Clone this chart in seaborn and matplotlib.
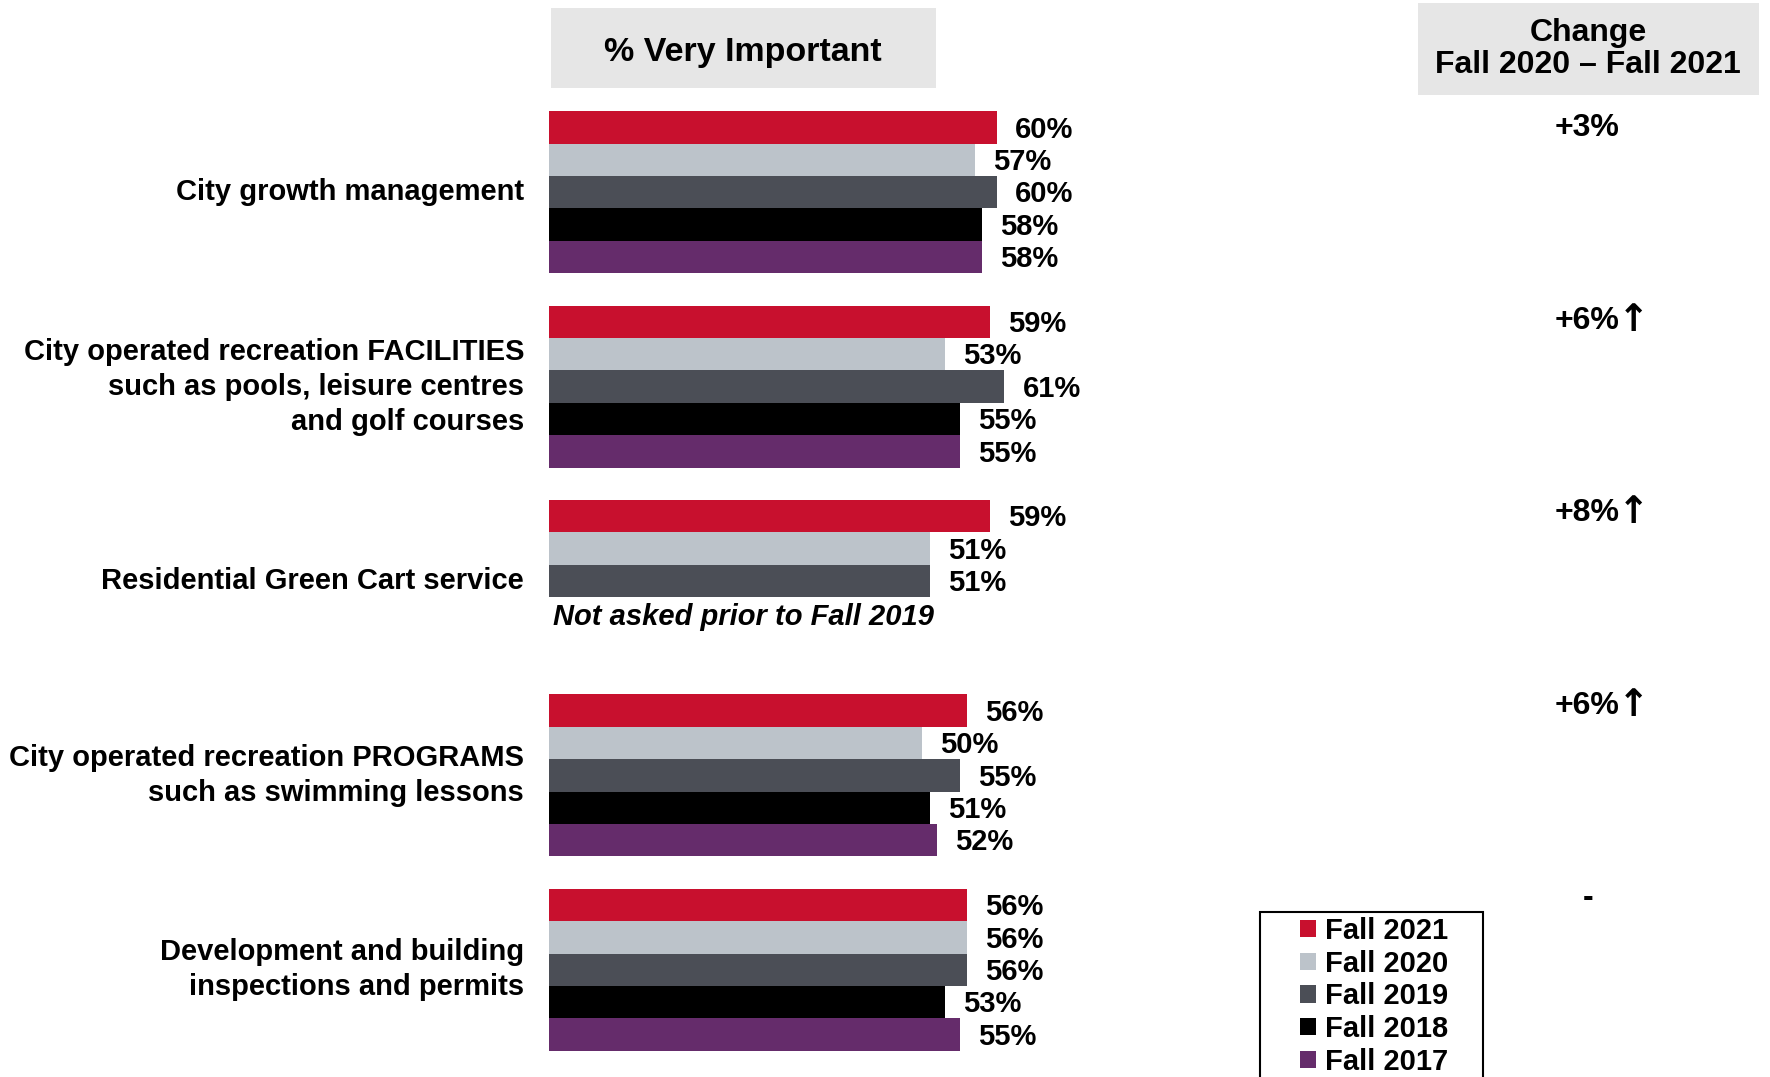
import matplotlib
matplotlib.use("Agg")
import matplotlib.pyplot as plt
import matplotlib.transforms as mtransforms
from matplotlib.patches import Rectangle
import pandas as pd
import seaborn as sns

categories = [
    "City growth management",
    "City operated recreation FACILITIES\nsuch as pools, leisure centres\nand golf courses",
    "Residential Green Cart service",
    "City operated recreation PROGRAMS\nsuch as swimming lessons",
    "Development and building\ninspections and permits",
]
years = ["Fall 2021", "Fall 2020", "Fall 2019", "Fall 2018", "Fall 2017"]
fall_2021 = [60, 59, 59, 56, 56]
fall_2020 = [57, 53, 51, 50, 56]
fall_2019 = [60, 61, 51, 55, 56]
fall_2018 = [58, 55, None, 51, 53]
fall_2017 = [58, 55, None, 52, 55]
changes = ["+3%", "+6%", "+8%", "+6%", "-"]
change_up = [False, True, True, True, False]
colors = ["#C8102E", "#BCC3CA", "#4B4E56", "#000000", "#652C6B"]

rows = []
for year, vals in zip(years, [fall_2021, fall_2020, fall_2019, fall_2018, fall_2017]):
    for cat, v in zip(categories, vals):
        if v is not None:
            rows.append({"item": cat, "year": year, "pct": v})
df = pd.DataFrame(rows)

sns.set_style("white")
plt.rcParams["font.family"] = ["Liberation Sans", "DejaVu Sans"]
plt.rcParams["text.color"] = "black"
plt.rcParams["ytick.color"] = "black"
plt.rcParams["ytick.labelcolor"] = "black"

W, H = 1770, 1077
fig = plt.figure(figsize=(W / 100, H / 100), dpi=100)
ax = fig.add_axes([549 / W, 1 - 1067 / H, 700 / W, 972 / H])

sns.barplot(data=df, y="item", x="pct", hue="year", order=categories, hue_order=years,
            palette=colors, width=5 / 6, orient="h", errorbar=None, saturation=1,
            linewidth=0, ax=ax)

ax.set_xlim(0, 700 / 7.467)
ax.set_ylim(4.5, -0.5)
ax.set_xlabel("")
ax.set_ylabel("")
ax.set_xticks([])
sns.despine(ax=ax, left=True, bottom=True)
ax.tick_params(axis="y", length=0, pad=18, labelsize=21)
for t in ax.get_yticklabels():
    t.set_fontweight("bold")
    t.set_linespacing(1.32)
    t.set_verticalalignment("center")
    t.set_color("black")

for c in ax.containers:
    labs = ax.bar_label(c, fmt="{:.0f}%", padding=13, fontsize=21, fontweight="bold",
                        color="black")
    for lab in labs:
        lab.set_verticalalignment("center")
        lab.xyann = (lab.xyann[0], -1.6)

ax.text(0.5, 2 + 1 / 6 + 0.02, "Not asked prior to Fall 2019", va="center", ha="left",
        fontsize=21, fontweight="bold", style="italic")

# change column
trans = mtransforms.blended_transform_factory(fig.transFigure, ax.transData)
for i, (ch, up) in enumerate(zip(changes, change_up)):
    y = i * 0.99 - 0.328
    if ch == "-":
        ax.text(1588 / W, y, ch, transform=trans, ha="center", va="center",
                fontsize=23, fontweight="bold", clip_on=False)
    else:
        t = ax.text(1555 / W, y, ch, transform=trans, ha="left", va="center",
                    fontsize=23, fontweight="bold", clip_on=False)
        if up:
            ax.annotate("\u2191", xy=(1, 0.5), xycoords=t, xytext=(-1.5, 0),
                        textcoords="offset points", ha="left", va="center",
                        fontsize=27, fontweight="bold", family="DejaVu Sans",
                        annotation_clip=False)

# header boxes
fig.add_artist(Rectangle((551 / W, 1 - 88 / H), 385 / W, 80 / H, transform=fig.transFigure,
                         facecolor="#e6e6e6", edgecolor="none", zorder=0))
fig.text(743 / W, 1 - 52 / H, "% Very Important", ha="center", va="center",
         fontsize=24.5, fontweight="bold")
fig.add_artist(Rectangle((1418 / W, 1 - 95 / H), 341 / W, 92 / H, transform=fig.transFigure,
                         facecolor="#e6e6e6", edgecolor="none", zorder=0))
fig.text(1588 / W, 1 - 49 / H, "Change\nFall 2020 \u2013 Fall 2021", ha="center", va="center",
         fontsize=23, fontweight="bold", linespacing=1.1)

# legend
handles, labels = ax.get_legend_handles_labels()
ax.legend(handles, labels, loc="upper left", bbox_to_anchor=(1300 / W, 1 - 917 / H),
          bbox_transform=fig.transFigure, frameon=False, handlelength=0.55, handleheight=0.55,
          handletextpad=0.3, borderpad=0, borderaxespad=0, labelspacing=0.16,
          prop={"size": 21, "weight": "bold"})
fig.add_artist(Rectangle((1260 / W, -10 / H), 223 / W, (1077 - 912 + 10) / H,
                         transform=fig.transFigure, fill=False, edgecolor="black",
                         linewidth=1.5))

fig.savefig("out.png", dpi=100)
